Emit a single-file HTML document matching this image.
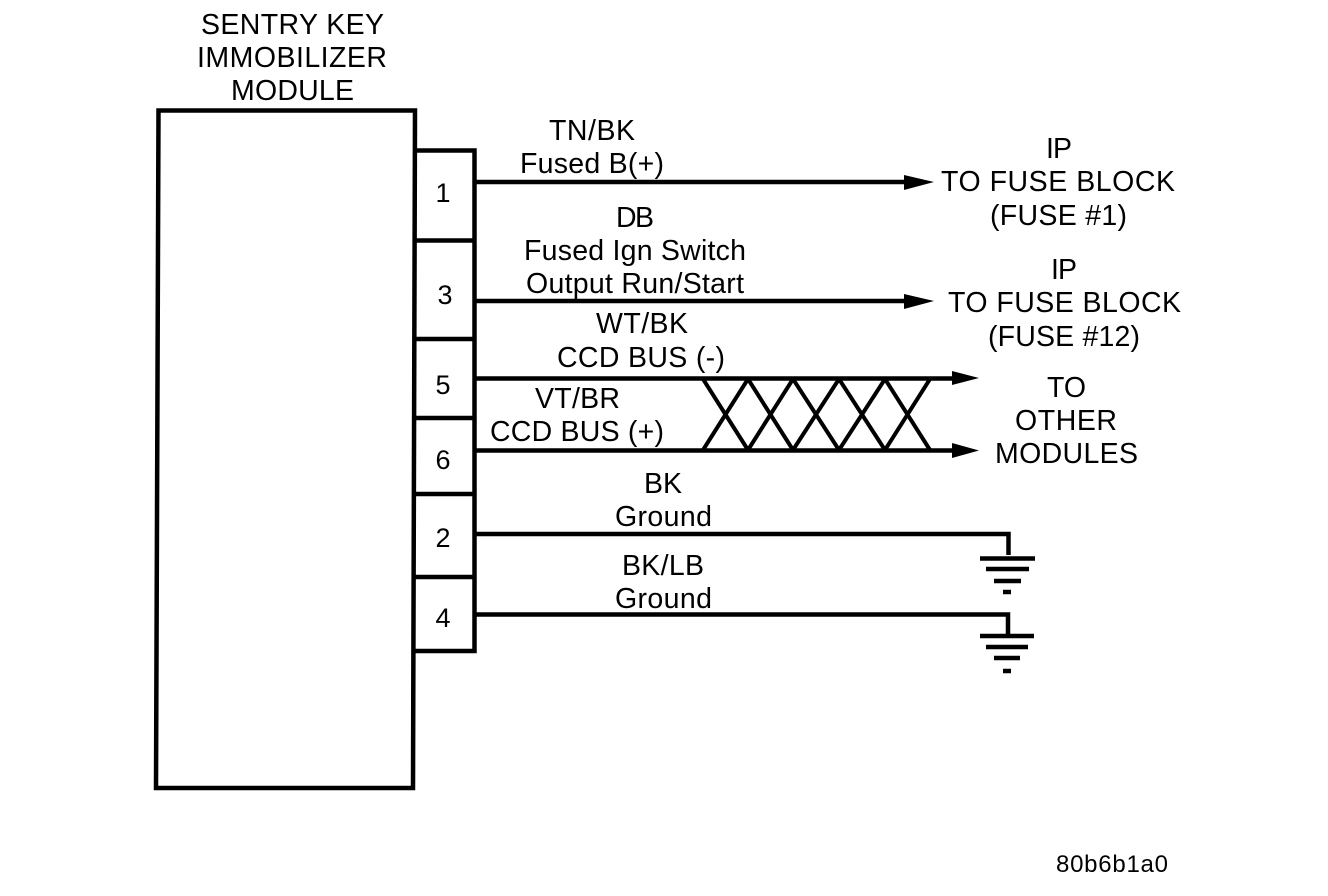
<!DOCTYPE html>
<html>
<head>
<meta charset="utf-8">
<style>
html,body{margin:0;padding:0;background:#fff;width:1328px;height:896px;overflow:hidden}
svg{display:block}
text{font-family:"Liberation Sans",sans-serif;font-size:28.5px;fill:#000;text-anchor:middle}
text.n{font-size:27px}
</style>
</head>
<body>
<svg width="1328" height="896" viewBox="0 0 1328 896" xmlns="http://www.w3.org/2000/svg">
<g fill="none" stroke="#000" stroke-width="4.5">
<path d="M158.500 110.500H415L413 788H156Z"/>
<path d="M415 150.500H474.500V651H414"/>
<path d="M415 240.500H474M415 339H474M415 418H474M415 494H474M414 577H474"/>
<path d="M474 182H908M474 301H908M474 378.500H955M474 450.500H955M474 534H1008.500V555M474 614.500H1008V634"/>
</g>
<g fill="#000">
<path d="M904 175L934 182L904 190Z"/>
<path d="M904 294L934 301L904 309Z"/>
<path d="M952 371L979 378L952 385Z"/>
<path d="M952 443L979 450.500L952 458Z"/>
</g>
<g fill="none" stroke="#000" stroke-width="4">
<path d="M703 379L748 450M748 379L703 450M748 379L793 450M793 379L748 450M793 379L839 450M839 379L793 450M839 379L885 450M885 379L839 450M885 379L930 450M930 379L885 450"/>
</g>
<g fill="none" stroke="#000" stroke-width="4.500">
<path d="M980 558.500H1035M986 569H1029M994 581H1021M1003 592H1011"/>
<path d="M980 636H1034M986 647H1028M994 658H1020M1003 671H1011"/>
</g>
<text x="292.500" y="34" textLength="183">SENTRY KEY</text>
<text x="292" y="67" textLength="190">IMMOBILIZER</text>
<text x="292.500" y="100" textLength="123">MODULE</text>
<text class="n" x="443" y="202">1</text>
<text class="n" x="445" y="304">3</text>
<text class="n" x="443" y="394">5</text>
<text class="n" x="443" y="469">6</text>
<text class="n" x="443" y="547">2</text>
<text class="n" x="443" y="627">4</text>
<text x="592" y="140" textLength="86">TN/BK</text>
<text x="592" y="173" textLength="144">Fused B(+)</text>
<text x="635" y="227" textLength="38">DB</text>
<text x="635" y="260" textLength="222">Fused Ign Switch</text>
<text x="635" y="293" textLength="218">Output Run/Start</text>
<text x="642" y="333" textLength="92">WT/BK</text>
<text x="641" y="367" textLength="168">CCD BUS (-)</text>
<text x="577.500" y="408" textLength="85">VT/BR</text>
<text x="577" y="441" textLength="174">CCD BUS (+)</text>
<text x="663" y="493" textLength="38">BK</text>
<text x="663.500" y="526" textLength="97">Ground</text>
<text x="663" y="575" textLength="82">BK/LB</text>
<text x="663.500" y="608" textLength="97">Ground</text>
<text x="1059" y="158" textLength="26">IP</text>
<text x="1058" y="191" textLength="234">TO FUSE BLOCK</text>
<text x="1058.500" y="225" textLength="137">(FUSE #1)</text>
<text x="1064" y="279" textLength="26">IP</text>
<text x="1064.500" y="312" textLength="233">TO FUSE BLOCK</text>
<text x="1064" y="346" textLength="152">(FUSE #12)</text>
<text x="1066.500" y="397" textLength="39">TO</text>
<text x="1066" y="430" textLength="102">OTHER</text>
<text x="1066.500" y="463" textLength="143">MODULES</text>
<text x="1112" y="872" style="font-size:24px" textLength="112">80b6b1a0</text>
</svg>
</body>
</html>
